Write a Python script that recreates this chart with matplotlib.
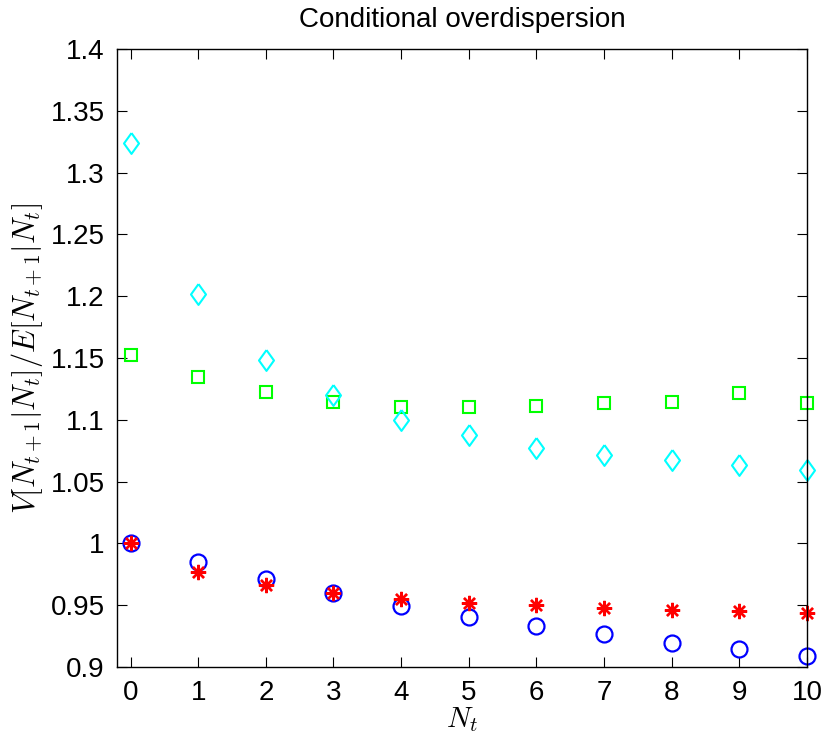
import numpy as np
import matplotlib
matplotlib.use("Agg")
import matplotlib.pyplot as plt

plt.rcParams["font.family"] = ["Liberation Sans", "DejaVu Sans"]
plt.rcParams["mathtext.fontset"] = "cm"

n_t = np.arange(0, 11)

# values
circle_vals = [1.0, 0.9846, 0.9716, 0.9600, 0.9494, 0.9405, 0.9332, 0.9263, 0.9198, 0.9143, 0.9089]
star_vals = [1.0, 0.9770, 0.9662, 0.9600, 0.9554, 0.9519, 0.9500, 0.9478, 0.9459, 0.9454, 0.9438]
square_vals = [1.1522, 1.1347, 1.1225, 1.1141, 1.1105, 1.1102, 1.1110, 1.1135, 1.1148, 1.1219, 1.1135]
diamond_vals = [1.3237, 1.2014, 1.1481, 1.1198, 1.0997, 1.0881, 1.0773, 1.0712, 1.0678, 1.0632, 1.0592]

y_ticks = [0.9, 0.95, 1.0, 1.05, 1.1, 1.15, 1.2, 1.25, 1.3, 1.35, 1.4]

# tall thin diamond like matlab's 'd'
thin_diamond = [(0, 1), (0.72, 0), (0, -1), (-0.72, 0), (0, 1)]

fig = plt.figure(figsize=(8.21, 7.42), dpi=100)
ax = fig.add_axes([117 / 821, 1 - 667 / 742, (807 - 117) / 821, (667 - 49) / 742])

ax.plot(n_t, circle_vals, linestyle="none", marker="o", ms=11.5, mfc="none",
        mec=(0, 0, 1), mew=1.6, clip_on=False)
ax.plot(n_t, star_vals, linestyle="none", marker=(8, 2, 0), ms=11,
        mec=(1, 0, 0), mew=1.7, clip_on=False)
ax.plot(n_t, square_vals, linestyle="none", marker="s", ms=9, mfc="none",
        mec=(0, 1, 0), mew=1.5, clip_on=False)
ax.plot(n_t, diamond_vals, linestyle="none", marker=thin_diamond, ms=15, mfc="none",
        mec=(0, 1, 1), mew=1.5, clip_on=False)

ax.set_xlim(-0.2, 10)
ax.set_ylim(0.9, 1.4)
ax.set_xticks(n_t)
ax.set_yticks(y_ticks)
ax.set_yticklabels(["%g" % v for v in y_ticks])

ax.tick_params(direction="in", length=7, width=0.8, labelsize=20,
               top=True, right=True, pad=9)
for s in ax.spines.values():
    s.set_linewidth(1.0)

ax.set_title("Conditional overdispersion", fontsize=20, pad=16)
ax.set_xlabel(r"$N_t$", fontsize=21, labelpad=0)
ax.set_ylabel(r"$V[N_{t+1}|N_t]/E[N_{t+1}|N_t]$", fontsize=22, labelpad=4)

fig.savefig("out.png", dpi=100)
plt.close(fig)
